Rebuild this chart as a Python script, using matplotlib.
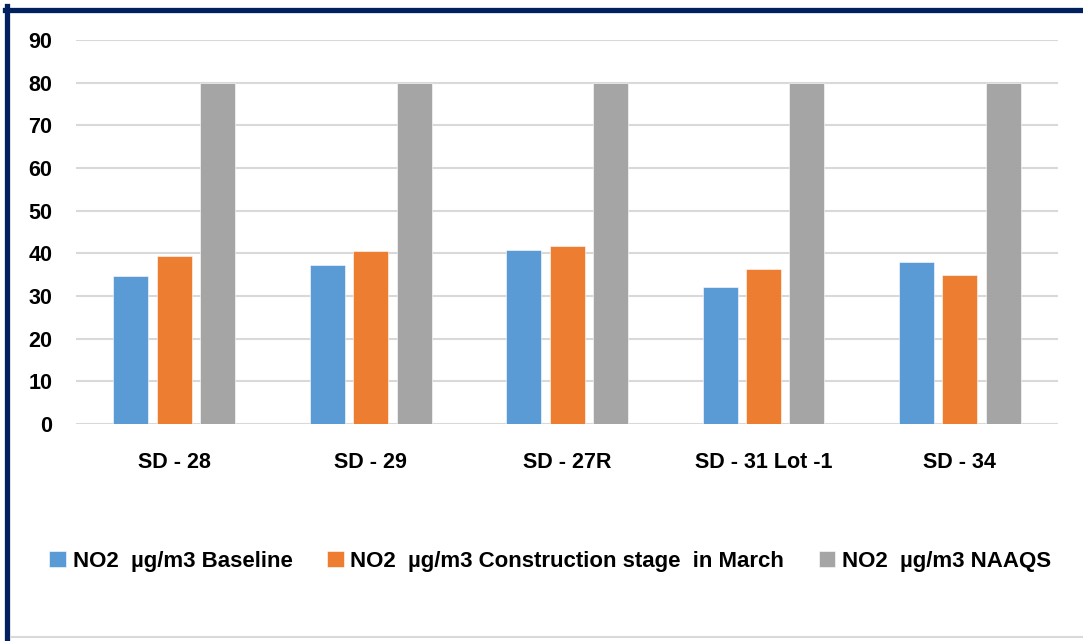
import numpy as np
import matplotlib.pyplot as plt
from matplotlib.lines import Line2D

# dados
locais = ['SD - 28', 'SD - 29', 'SD - 27R', 'SD - 31 Lot -1', 'SD - 34']
baseline = [34.8, 37.2, 40.7, 32.1, 38.0]
construcao = [39.4, 40.6, 41.7, 36.3, 35.0]
naaqs = [80, 80, 80, 80, 80]
series = ['NO2  µg/m3 Baseline', 'NO2  µg/m3 Construction stage  in March', 'NO2  µg/m3 NAAQS']
cores = ['#5B9BD5', '#ED7D31', '#A5A5A5']
yticks = [0, 10, 20, 30, 40, 50, 60, 70, 80, 90]

plt.rcParams['font.family'] = ['Liberation Sans', 'DejaVu Sans']
plt.rcParams['font.weight'] = 'bold'
fs = 15.5

fig = plt.figure(figsize=(10.83, 6.41), dpi=100)
ax = fig.add_axes([0.0702, 0.3385, 0.9068, 0.5991])

x = np.arange(len(locais))
w = 0.178
d = 0.221
for k, (vals, nome) in enumerate(zip([baseline, construcao, naaqs], series)):
    ax.bar(x + (k - 1) * d, vals, w, color=cores[k], label=nome, zorder=3,
           edgecolor='white', linewidth=0.4)

ax.set_xlim(-0.5, len(locais) - 0.5)
ax.set_ylim(0, 90)
ax.set_yticks(yticks)
ax.set_xticks(x)
ax.set_xticklabels(locais, fontsize=fs, fontweight='bold')
ax.set_yticklabels([str(v) for v in yticks], fontsize=fs, fontweight='bold')
ax.tick_params(length=0)
ax.tick_params(axis='y', pad=17)
ax.tick_params(axis='x', pad=20)
ax.grid(axis='y', color='#D9D9D9', linewidth=1.5, zorder=0)
for s in ax.spines.values():
    s.set_visible(False)

leg = fig.legend(loc='center', bbox_to_anchor=(0.508, 0.124), ncol=3, frameon=False,
                 prop={'size': 16, 'weight': 'bold'}, handlelength=0.75,
                 handleheight=0.75, handletextpad=0.3, columnspacing=1.55)

# borda azul escura
fig.add_artist(Line2D([0.0069, 0.0069], [0, 0.9906], color='#002060', lw=3.8, transform=fig.transFigure))
fig.add_artist(Line2D([0.0046, 1], [0.985, 0.985], color='#002060', lw=3.8, transform=fig.transFigure))
fig.add_artist(Line2D([0.01, 1], [0.006, 0.006], color='#D9D9D9', lw=1.5, transform=fig.transFigure))

fig.savefig('out.png', dpi=100)
